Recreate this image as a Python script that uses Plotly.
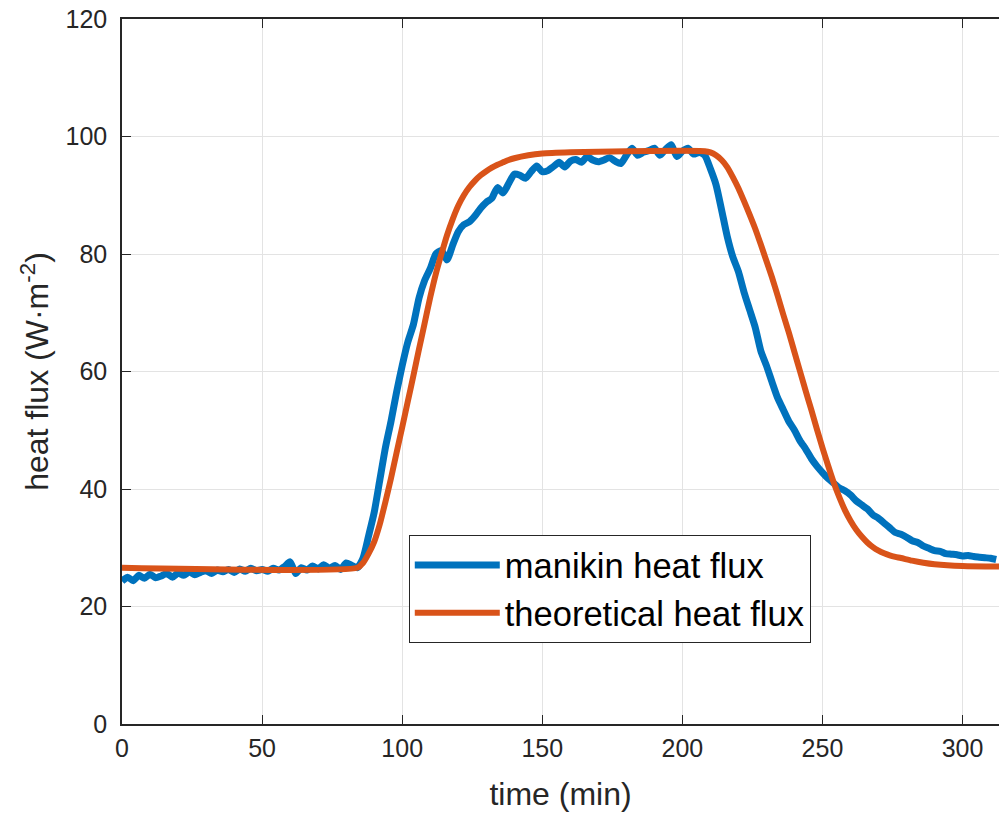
import plotly.graph_objects as go

# ---- data ----
manikin_time = list(range(0, 314, 2))
manikin_flux = [
    24.3, 25.0, 24.4, 25.3, 24.8, 25.5, 24.9, 25.2, 25.6, 25.0,
    25.7, 25.3, 25.9, 25.4, 25.8, 26.1, 25.6, 26.2, 25.9, 26.3,
    25.8, 26.4, 26.0, 26.5, 26.1, 26.3, 26.0, 26.5, 26.2, 26.8,
    27.6, 25.6, 26.6, 26.2, 26.9, 26.4, 27.1, 26.5, 27.0, 26.3,
    27.4, 27.0, 26.6, 28.2, 32.0, 36.0, 41.5, 47.0, 51.5, 56.5,
    61.0, 65.0, 68.0, 72.5, 75.5, 77.5, 80.0, 80.6, 79.0, 81.5,
    83.8, 85.0, 85.5, 86.5, 87.8, 88.8, 89.5, 91.3, 90.4, 92.0,
    93.6, 93.4, 92.9, 94.0, 95.0, 94.0, 94.2, 94.9, 95.6, 94.8,
    95.8, 96.1, 95.6, 96.6, 96.0, 95.7, 96.0, 96.4, 95.8, 95.4,
    96.8, 98.0, 96.8, 97.3, 97.6, 98.0, 96.8, 97.8, 98.6, 96.6,
    97.5, 98.0, 97.0, 97.3, 96.8, 94.5, 91.8, 87.5, 83.0, 79.5,
    77.0, 73.5, 70.5, 67.5, 63.5, 61.0, 58.2, 55.5, 53.5, 51.5,
    50.0, 48.2, 46.8, 45.2, 43.9, 42.8, 41.8, 41.0, 40.2, 39.7,
    39.0, 38.0, 37.3, 36.6, 35.6, 35.0, 34.2, 33.4, 32.6, 32.3,
    31.8, 31.2, 30.9, 30.3, 29.9, 29.5, 29.4, 29.0, 28.9, 28.8,
    28.6, 28.7, 28.5, 28.4, 28.3, 28.2, 28.0,
]

theory_time = [0, 84, 86, 88, 90, 92, 94, 96, 98, 100, 102, 104, 106, 108, 110,
               112, 114, 116, 118, 120, 122, 124, 126, 128, 130, 132, 134, 136,
               138, 140, 145, 150, 160, 170, 180, 208, 210, 212, 214, 216, 218,
               220, 222, 224, 226, 228, 230, 232, 234, 236, 238, 240, 242, 244,
               246, 248, 250, 252, 254, 256, 258, 260, 262, 264, 266, 268, 270,
               272, 274, 276, 278, 282, 286, 290, 300, 313]
theory_flux = [26.6, 26.6, 27.4, 29.0, 31.0, 34.0, 37.8, 41.8, 46.2, 50.5, 54.9,
               59.3, 63.8, 68.2, 72.6, 76.6, 80.0, 83.2, 85.9, 88.2, 90.0, 91.4,
               92.5, 93.4, 94.1, 94.7, 95.2, 95.6, 96.0, 96.3, 96.8, 97.1, 97.3,
               97.4, 97.5, 97.5, 97.3, 96.8, 96.0, 94.8, 93.1, 91.2, 89.0, 86.7,
               84.3, 81.6, 78.8, 76.0, 72.9, 69.7, 66.6, 63.3, 60.0, 56.7, 53.5,
               50.2, 47.0, 44.0, 41.1, 38.6, 36.4, 34.6, 33.1, 31.9, 30.9, 30.1,
               29.5, 29.05, 28.7, 28.45, 28.25, 27.8, 27.45, 27.2, 26.9, 26.8]

x_ticks = [0, 50, 100, 150, 200, 250, 300]
y_ticks = [0, 20, 40, 60, 80, 100, 120]

BLUE = "#0072BD"
ORANGE = "#D95319"
AXC = "#262626"
FONT = "Liberation Sans, Arial, sans-serif"

fig = go.Figure()
fig.add_trace(go.Scatter(x=manikin_time, y=manikin_flux, mode="lines",
                         name="manikin heat flux",
                         line=dict(color=BLUE, width=7, shape="spline", smoothing=0.6)))
fig.add_trace(go.Scatter(x=theory_time, y=theory_flux, mode="lines",
                         name="theoretical heat flux",
                         line=dict(color=ORANGE, width=6, shape="spline", smoothing=0.6)))

axis_common = dict(
    showline=True, linecolor=AXC, linewidth=1.5,
    ticks="inside", ticklen=9, tickwidth=1.3, tickcolor=AXC,
    showgrid=True, gridcolor="#e3e3e3", gridwidth=1,
    zeroline=False, automargin=False,
    tickfont=dict(family=FONT, size=25, color=AXC),
)

fig.update_xaxes(range=[0, 313], tickvals=x_ticks, mirror="ticks",
                 ticklabelstandoff=1,
                 title=dict(text="time (min)", font=dict(family=FONT, size=32, color=AXC),
                            standoff=22),
                 **axis_common)
fig.update_yaxes(range=[0, 120], tickvals=y_ticks, mirror=False,
                 ticklabelstandoff=8,
                 title=dict(text="heat flux (W·m<sup>-2</sup>)",
                            font=dict(family=FONT, size=32, color=AXC), standoff=7),
                 **axis_common)

fig.update_layout(
    width=999, height=813,
    margin=dict(l=122, r=0, t=19, b=89),
    paper_bgcolor="white", plot_bgcolor="white",
    font=dict(family=FONT, color=AXC),
    showlegend=True,
    legend=dict(x=0.327, y=0.268, xanchor="left", yanchor="top",
                bgcolor="white", bordercolor="#262626", borderwidth=1,
                font=dict(family=FONT, size=34.5, color="black"),
                itemwidth=85),
)

fig.write_html("out.html")
